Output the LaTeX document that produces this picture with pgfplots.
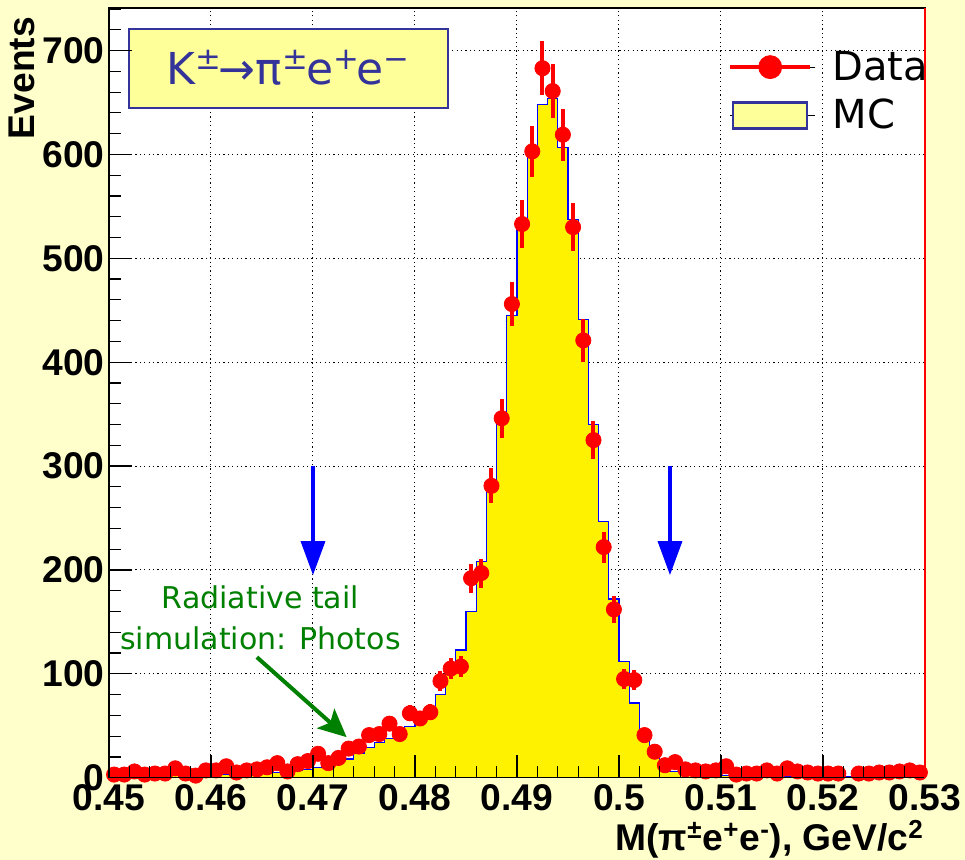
\documentclass[border=0pt]{standalone}
\usepackage{fontspec}
\setmainfont{Liberation Sans}
\newfontfamily\dejavu{DejaVu Sans}
\usepackage{pgfplots}
\usepackage{pgfplotstable}
\pgfplotsset{compat=1.18}
\usetikzlibrary{arrows.meta}
\definecolor{bgy}{RGB}{255,255,204}
\definecolor{boxy}{RGB}{255,255,153}
\definecolor{boxb}{RGB}{51,51,153}
\definecolor{mcblue}{RGB}{0,0,255}
\definecolor{dgreen}{RGB}{0,128,0}

\pgfplotstableread{
x y e
0.4505 3 1.7
0.4515 3 1.7
0.4525 6 2.4
0.4535 3 1.7
0.4545 4 2.0
0.4555 4 2.0
0.4565 9 3.0
0.4575 4 2.0
0.4585 2 1.4
0.4595 7 2.6
0.4605 7 2.6
0.4615 11 3.3
0.4625 5 2.2
0.4635 7 2.6
0.4645 8 2.8
0.4655 10 3.2
0.4665 14 3.7
0.4675 6 2.4
0.4685 13 3.6
0.4695 16 4.0
0.4705 23 4.8
0.4715 14 3.7
0.4725 19 4.4
0.4735 28 5.3
0.4745 30 5.5
0.4755 41 6.4
0.4765 42 6.5
0.4775 52 7.2
0.4785 42 6.5
0.4795 62 7.9
0.4805 57 7.5
0.4815 63 7.9
0.4825 93 9.6
0.4835 105 10.2
0.4845 107 10.3
0.4855 192 13.9
0.4865 197 14.0
0.4875 281 16.8
0.4885 346 18.6
0.4895 456 21.4
0.4905 533 23.1
0.4915 603 24.6
0.4925 683 26.1
0.4935 661 25.7
0.4945 619 24.9
0.4955 530 23.0
0.4965 421 20.5
0.4975 325 18.0
0.4985 222 14.9
0.4995 162 12.7
0.5005 95 9.7
0.5015 94 9.7
0.5025 41 6.4
0.5035 25 5.0
0.5045 12 3.5
0.5055 15 3.9
0.5065 8 2.8
0.5075 7 2.6
0.5085 6 2.4
0.5095 7 2.6
0.5105 11 3.3
0.5115 3 1.7
0.5125 4 2.0
0.5135 4 2.0
0.5145 7 2.6
0.5155 4 2.0
0.5165 9 3.0
0.5175 6 2.4
0.5185 5 2.2
0.5195 4 2.0
0.5205 4 2.0
0.5215 4 2.0
0.5235 4 2.0
0.5245 4 2.0
0.5255 5 2.2
0.5265 5 2.2
0.5275 6 2.4
0.5285 7 2.6
0.5295 5 2.2
}\datatab

\pgfplotstableread{
x y
0.450 1
0.451 1
0.452 1
0.453 1
0.454 2
0.455 2
0.456 2
0.457 2
0.458 2
0.459 2
0.460 3
0.461 3
0.462 3
0.463 4
0.464 4
0.465 5
0.466 5
0.467 6
0.468 7
0.469 8
0.470 10
0.471 12
0.472 15
0.473 18
0.474 23
0.475 29
0.476 34
0.477 38
0.478 44
0.479 49
0.480 55
0.481 64
0.482 80
0.483 100
0.484 123
0.485 160
0.486 208
0.487 276
0.488 341
0.489 445
0.490 532
0.491 601
0.492 648
0.493 654
0.494 607
0.495 537
0.496 441
0.497 340
0.498 247
0.499 172
0.500 112
0.501 72
0.502 38
0.503 21
0.504 11
0.505 6
0.506 4
0.507 3
0.508 2
0.509 2
0.510 2
0.511 1
0.512 1
0.513 1
0.514 1
0.515 1
0.516 1
0.517 1
0.518 1
0.519 1
0.520 1
0.521 1
0.522 1
0.523 1
0.524 1
0.525 1
0.526 1
0.527 1
0.528 1
0.529 1
0.530 1
}\mctab

\begin{document}
\begin{tikzpicture}
\useasboundingbox (-54.5pt,-41.15pt) rectangle (428pt,388.85pt);
\fill[bgy] (-54.5pt,-41.15pt) rectangle (428pt,388.85pt);
\pgfplotsset{common/.style={scale only axis, width=408pt, height=384.85pt,
  at={(0pt,0pt)}, anchor=south west,
  xmin=0.45, xmax=0.53, ymin=0, ymax=741,
  xtick={0.45,0.46,0.47,0.48,0.49,0.50,0.51,0.52,0.53},
  axis line style={line width=0.8pt}}}
\begin{axis}[common,
  axis background/.style={fill=white},
  clip mode=individual,
  ytick={0,100,200,300,400,500,600,700},
  xticklabels={0.45,0.46,0.47,0.48,0.49,0.5,0.51,0.52,0.53},
  /pgf/number format/assume math mode=true,
  ticklabel style={font=\bfseries\fontsize{18.6}{20}\selectfont},
  yticklabel style={inner sep=2pt},
  xticklabel style={inner sep=3pt},
  grid=major,
  major grid style={black, line width=0.5pt, dash pattern=on 0.6pt off 1.6pt},
  major tick length=0pt, minor tick length=0pt,
  legend style={at={(0.751,0.955)}, anchor=north west, draw=none, fill=none,
    font=\dejavu\fontsize{20}{22}\selectfont, row sep=4pt,
    nodes={inner sep=2pt}},
  legend cell align=left,
]
\addlegendimage{legend image code/.code={\path (0pt,0pt) -- (42.5pt,0pt); \draw[red, line width=2pt] (0pt,0pt) -- (40pt,0pt); \fill[red] (20pt,0pt) circle (5.75pt);}}
\addlegendentry{\hspace*{6.5pt}Data}
\addlegendimage{legend image code/.code={\path (0pt,0pt) -- (42.5pt,0pt); \draw[draw=boxb, fill=boxy, line width=1.2pt] (1.5pt,-6.5pt) rectangle (38.5pt,6.5pt);}}
\addlegendentry{\hspace*{6.5pt}MC}

\addplot[const plot, fill=yellow, draw=mcblue, line width=0.6pt, forget plot]
  table[x=x, y=y] {\mctab} \closedcycle;

\draw[mcblue, line width=1.7pt, -{Triangle[length=17pt, width=12pt]}] (axis cs:0.470,300) -- (axis cs:0.470,195);
\draw[mcblue, line width=1.7pt, -{Triangle[length=17pt, width=12pt]}] (axis cs:0.505,300) -- (axis cs:0.505,195);

\addplot[only marks, mark=*, mark size=3.8pt, red, mark options={fill=red, draw=none}, forget plot,
  error bars/.cd, y dir=both, y explicit, error mark=none,
  error bar style={red, line width=2pt}]
  table[x=x, y=y, y error=e] {\datatab};

\node[text=dgreen, font=\dejavu\fontsize{15}{20.5}\selectfont, align=center] at (axis cs:0.46485,154) {Radiative tail\\simulation: Photos};
\draw[dgreen, line width=2pt, -{Stealth[length=14pt, width=13pt, inset=3pt]}] (axis cs:0.4645,116) -- (axis cs:0.4733,39);

\node[draw=boxb, fill=boxy, line width=1pt, minimum width=159.5pt, minimum height=39.5pt, inner sep=0pt,
  text=boxb, font=\dejavu\fontsize{22}{24}\selectfont] at (axis cs:0.4676,683.2)
  {K\textsuperscript{±}\kern-1.5pt→π\textsuperscript{±}\kern-1.5pt e\textsuperscript{+}\kern-1.5pt e\textsuperscript{−}};

\node[rotate=90, anchor=base east, font=\bfseries\fontsize{18.6}{20}\selectfont] at ([shift={(-37pt,-1pt)}]rel axis cs:0,1) {Events};
\node[anchor=base east, font=\bfseries\fontsize{18.6}{20}\selectfont] at ([shift={(3pt,-36.6pt)}]rel axis cs:1,0) {M(π\textsuperscript{±}e\textsuperscript{+}e\textsuperscript{-}), GeV/c\textsuperscript{2}};
\end{axis}
\begin{axis}[common, name=ax2, axis on top,
  ytick={0,100,200,300,400,500,600,700,800},
  xticklabels={}, yticklabels={},
  tick align=inside, tick pos=left,
  minor x tick num=4, minor y tick num=4,
  major tick length=11.5pt, minor tick length=6pt,
  tick style={black, line width=0.6pt},
]
\end{axis}
\draw[red, line width=0.6pt] (ax2.south east) -- (ax2.north east);
\end{tikzpicture}
\end{document}
